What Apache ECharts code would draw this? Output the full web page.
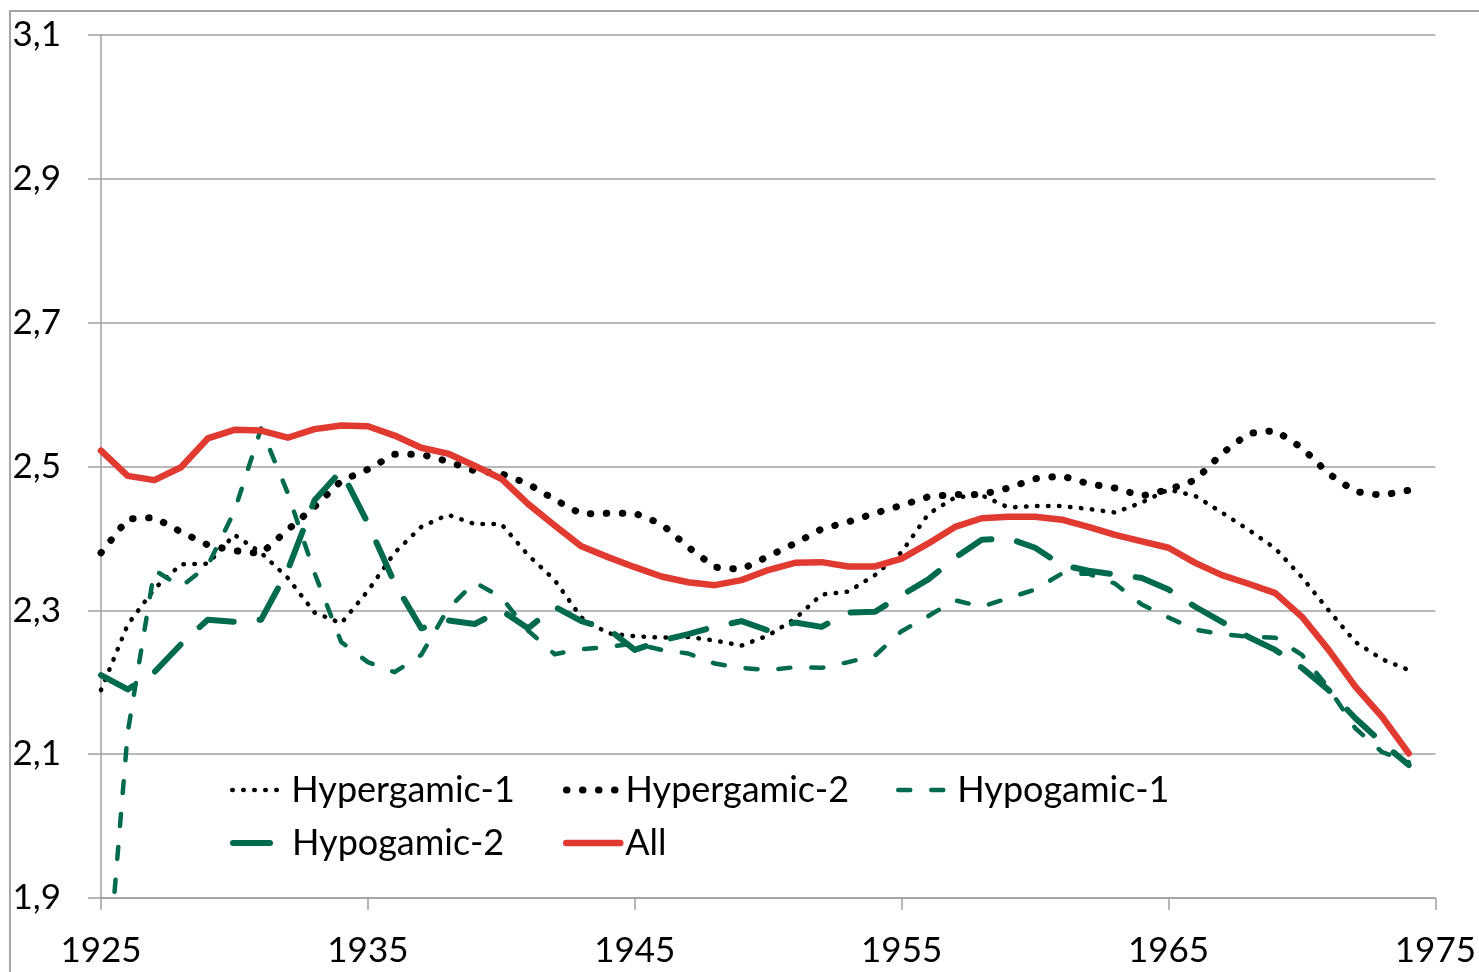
<!DOCTYPE html>
<html>
<head>
<meta charset="utf-8">
<script src="https://cdn.jsdelivr.net/npm/echarts@6/dist/echarts.min.js"></script>
<style>
  html, body { margin: 0; padding: 0; background: #fff; overflow: hidden; }
  #frame { position: absolute; left: 9px; top: 10px; width: 1500px; height: 1000px;
           border-left: 2px solid #a6a6a6; border-top: 2px solid #a6a6a6; box-sizing: border-box; }
  #chart { position: absolute; left: 0; top: 0; width: 1479px; height: 972px; }
</style>
</head>
<body>
<div id="frame"></div>
<div id="chart"></div>
<script>
const years = [1925,1926,1927,1928,1929,1930,1931,1932,1933,1934,
               1935,1936,1937,1938,1939,1940,1941,1942,1943,1944,
               1945,1946,1947,1948,1949,1950,1951,1952,1953,1954,
               1955,1956,1957,1958,1959,1960,1961,1962,1963,1964,
               1965,1966,1967,1968,1969,1970,1971,1972,1973,1974];

const hypergamic1 = [2.189,2.28,2.33,2.364,2.365,2.405,2.38,2.345,2.297,2.282,
                     2.327,2.38,2.416,2.433,2.42,2.42,2.377,2.342,2.29,2.268,
                     2.264,2.262,2.263,2.258,2.251,2.265,2.288,2.322,2.326,2.349,
                     2.381,2.434,2.457,2.46,2.443,2.445,2.445,2.441,2.436,2.45,
                     2.468,2.459,2.436,2.412,2.386,2.346,2.3,2.256,2.232,2.217];

const hypergamic2 = [2.38,2.427,2.429,2.409,2.391,2.383,2.379,2.412,2.444,2.48,
                     2.496,2.517,2.517,2.507,2.494,2.49,2.476,2.454,2.434,2.435,
                     2.435,2.42,2.388,2.36,2.357,2.375,2.393,2.413,2.423,2.435,
                     2.446,2.458,2.461,2.461,2.47,2.483,2.487,2.476,2.47,2.459,
                     2.468,2.481,2.518,2.546,2.55,2.526,2.49,2.465,2.46,2.467];

const hypogamic1 = [1.68,2.13,2.356,2.333,2.362,2.438,2.553,2.463,2.352,2.256,
                    2.228,2.214,2.238,2.302,2.339,2.318,2.272,2.239,2.246,2.249,
                    2.254,2.245,2.24,2.226,2.22,2.217,2.221,2.22,2.228,2.237,
                    2.271,2.292,2.314,2.305,2.317,2.329,2.351,2.351,2.337,2.308,
                    2.29,2.273,2.267,2.263,2.262,2.238,2.192,2.136,2.103,2.089];

const hypogamic2 = [2.21,2.19,2.214,2.253,2.287,2.284,2.287,2.356,2.453,2.494,
                    2.421,2.338,2.275,2.286,2.281,2.3,2.275,2.305,2.285,2.274,
                    2.245,2.258,2.267,2.277,2.285,2.272,2.283,2.277,2.297,2.298,
                    2.321,2.343,2.373,2.398,2.4,2.387,2.363,2.355,2.35,2.345,
                    2.329,2.305,2.284,2.263,2.245,2.22,2.189,2.15,2.116,2.085];

const allSeries = [2.522,2.487,2.481,2.499,2.539,2.551,2.55,2.54,2.552,2.557,
                   2.556,2.543,2.526,2.518,2.501,2.483,2.448,2.418,2.389,2.374,
                   2.36,2.347,2.339,2.335,2.342,2.356,2.366,2.367,2.361,2.361,
                   2.372,2.393,2.416,2.428,2.43,2.43,2.426,2.416,2.405,2.396,
                   2.387,2.366,2.349,2.337,2.324,2.291,2.245,2.194,2.152,2.101];

const seriesNames = ['Hypergamic-1','Hypergamic-2','Hypogamic-1','Hypogamic-2','All'];
const seriesValues = [hypergamic1, hypergamic2, hypogamic1, hypogamic2, allSeries];

const GREEN = '#006a4e';
const RED = '#e03a31';
const styles = [
  { color: '#000', width: 4.5, type: [0.5, 10.5] },
  { color: '#000', width: 7, type: [0.5, 15.5] },
  { color: GREEN, width: 4.5, type: [12, 21] },
  { color: GREEN, width: 6, type: [37, 26] },
  { color: RED, width: 6.5, type: 'solid' }
];
const legendPos = [
  { left: 230, top: 772 }, { left: 563, top: 772 }, { left: 896, top: 772 },
  { left: 230, top: 825 }, { left: 563, top: 825 }
];

const FONT = 'Lato';
const chart = echarts.init(document.getElementById('chart'));

const series = seriesNames.map((name, i) => ({
  name: name,
  type: 'line',
  data: years.map((y, k) => [y, seriesValues[i][k]]),
  symbol: 'none',
  showSymbol: false,
  clip: true,
  z: 2 + i,
  lineStyle: {
    color: styles[i].color, width: styles[i].width, type: styles[i].type,
    cap: 'round', join: 'round'
  },
  itemStyle: { color: styles[i].color },
  emphasis: { disabled: true },
  animation: false
}));

const legends = seriesNames.map((name, i) => ({
  data: [name],
  left: legendPos[i].left,
  top: legendPos[i].top,
  padding: 0,
  itemWidth: 54,
  itemHeight: 20,
  selectedMode: false,
  textStyle: { fontFamily: FONT, fontSize: 36, color: '#000' },
  itemStyle: { opacity: 0 },
  lineStyle: { width: styles[i].width, type: 'inherit', cap: 'round' }
}));

chart.setOption({
  animation: false,
  backgroundColor: 'transparent',
  grid: { left: 101, right: 43, top: 35, bottom: 74, containLabel: false },
  legend: legends,
  xAxis: {
    type: 'value', min: 1925, max: 1975, interval: 10,
    axisLine: { show: true, onZero: false, lineStyle: { color: '#a0a0a0', width: 1.5 } },
    axisTick: { show: true, inside: false, length: 12, lineStyle: { color: '#a0a0a0', width: 1.5 } },
    splitLine: { show: false },
    axisLabel: { fontFamily: FONT, fontSize: 35, color: '#000', margin: 35,
                 formatter: v => String(v) }
  },
  yAxis: {
    type: 'value', min: 1.9, max: 3.1, interval: 0.2,
    axisLine: { show: true, lineStyle: { color: '#a0a0a0', width: 1.5 } },
    axisTick: { show: true, inside: false, length: 13, lineStyle: { color: '#a0a0a0', width: 1.5 } },
    splitLine: { show: true, lineStyle: { color: '#a0a0a0', width: 1.5 } },
    axisLabel: { fontFamily: FONT, fontSize: 35, color: '#000', margin: 40,
                 formatter: v => v.toFixed(1).replace('.', ',') }
  },
  series: series
});
</script>
</body>
</html>
